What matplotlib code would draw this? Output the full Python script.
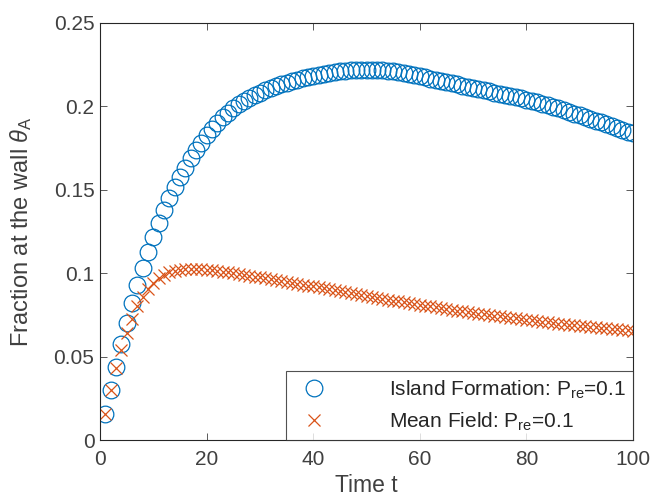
import numpy as np
import matplotlib
matplotlib.use("Agg")
import matplotlib.pyplot as plt

plt.rcParams['font.family'] = ['Liberation Sans', 'DejaVu Sans']
plt.rcParams['mathtext.fontset'] = 'custom'
plt.rcParams['mathtext.rm'] = 'Liberation Sans'
plt.rcParams['mathtext.it'] = 'Liberation Sans:italic'

t = np.arange(1, 101)

island = [0.0154, 0.0300, 0.0439, 0.0575, 0.0703, 0.0823, 0.0929, 0.1033, 0.1128, 0.1218,
          0.1302, 0.1378, 0.1448, 0.1514, 0.1578, 0.1632, 0.1688, 0.1738, 0.1782, 0.1828,
          0.1866, 0.1902, 0.1934, 0.1962, 0.1987, 0.2010, 0.2031, 0.2050, 0.2066, 0.2080,
          0.2094, 0.2107, 0.2119, 0.2130, 0.2140, 0.2150, 0.2159, 0.2167, 0.2175, 0.2182,
          0.2188, 0.2194, 0.2199, 0.2204, 0.2208, 0.2211, 0.2214, 0.2216, 0.2217, 0.2218,
          0.2218, 0.2217, 0.2215, 0.2212, 0.2208, 0.2203, 0.2198, 0.2192, 0.2186, 0.2179,
          0.2172, 0.2165, 0.2158, 0.2151, 0.2144, 0.2137, 0.2130, 0.2123, 0.2116, 0.2109,
          0.2102, 0.2095, 0.2088, 0.2081, 0.2074, 0.2067, 0.2060, 0.2053, 0.2046, 0.2039,
          0.2031, 0.2022, 0.2013, 0.2004, 0.1995, 0.1986, 0.1976, 0.1966, 0.1956, 0.1946,
          0.1936, 0.1925, 0.1914, 0.1903, 0.1892, 0.1881, 0.1870, 0.1859, 0.1848, 0.1838]

meanfield = [0.0154, 0.0300, 0.0430, 0.0539, 0.0639, 0.0723, 0.0800, 0.0859, 0.0903, 0.0939,
             0.0969, 0.0990, 0.1005, 0.1014, 0.1020, 0.1023, 0.1024, 0.1024, 0.1023, 0.1021,
             0.1017, 0.1013, 0.1009, 0.1004, 0.0999, 0.0994, 0.0989, 0.0984, 0.0979, 0.0974,
             0.0968, 0.0963, 0.0957, 0.0951, 0.0946, 0.0940, 0.0935, 0.0930, 0.0925, 0.0920,
             0.0914, 0.0908, 0.0902, 0.0896, 0.0890, 0.0884, 0.0878, 0.0872, 0.0866, 0.0860,
             0.0855, 0.0850, 0.0845, 0.0840, 0.0835, 0.0830, 0.0825, 0.0820, 0.0815, 0.0810,
             0.0805, 0.0800, 0.0795, 0.0790, 0.0785, 0.0780, 0.0775, 0.0770, 0.0765, 0.0760,
             0.0756, 0.0752, 0.0748, 0.0744, 0.0740, 0.0736, 0.0732, 0.0728, 0.0724, 0.0720,
             0.0716, 0.0712, 0.0708, 0.0704, 0.0700, 0.0697, 0.0694, 0.0691, 0.0688, 0.0685,
             0.0682, 0.0679, 0.0676, 0.0673, 0.0670, 0.0667, 0.0664, 0.0661, 0.0658, 0.0655]

xticks = [0, 20, 40, 60, 80, 100]
yticks = [0, 0.05, 0.1, 0.15, 0.2, 0.25]
yticklabels = ['0', '0.05', '0.1', '0.15', '0.2', '0.25']

grey = '#404040'

fig = plt.figure(figsize=(6.55, 5.0), dpi=100)
ax = fig.add_axes([0.1527, 0.12, 0.8137, 0.8346])

ax.plot(t, island, linestyle='none', marker='o', markersize=12, markerfacecolor='none',
        markeredgecolor='#0072BD', markeredgewidth=0.9, label='Island Formation: P$_{\\mathrm{re}}$=0.1')
ax.plot(t, meanfield, linestyle='none', marker='x', markersize=9,
        markeredgecolor='#D95319', markeredgewidth=0.9, label='Mean Field: P$_{\\mathrm{re}}$=0.1')

ax.set_xlim(0, 100)
ax.set_ylim(0, 0.25)
ax.set_xticks(xticks)
ax.set_yticks(yticks)
ax.set_yticklabels(yticklabels)
ax.tick_params(direction='in', top=True, right=True, length=5, width=0.6,
               labelsize=15, colors=grey, pad=4)
ax.tick_params(axis='x', pad=7)
for s in ax.spines.values():
    s.set_linewidth(0.8)
    s.set_color('#262626')

ax.set_xlabel('Time t', fontsize=16.5, color=grey, labelpad=4)
ax.set_ylabel('Fraction at the wall $\\theta_{\\mathrm{A}}$', fontsize=17, color=grey, labelpad=14)

leg = ax.legend(loc='lower right', bbox_to_anchor=(1.0, 0.0), fontsize=15, frameon=True,
                fancybox=False, edgecolor='#262626', handlelength=2.0, handletextpad=2.6,
                borderpad=0.35, labelspacing=0.45, borderaxespad=0)
leg.get_frame().set_linewidth(0.8)
for txt in leg.get_texts():
    txt.set_color('#262626')

fig.savefig('out.png', dpi=100)
